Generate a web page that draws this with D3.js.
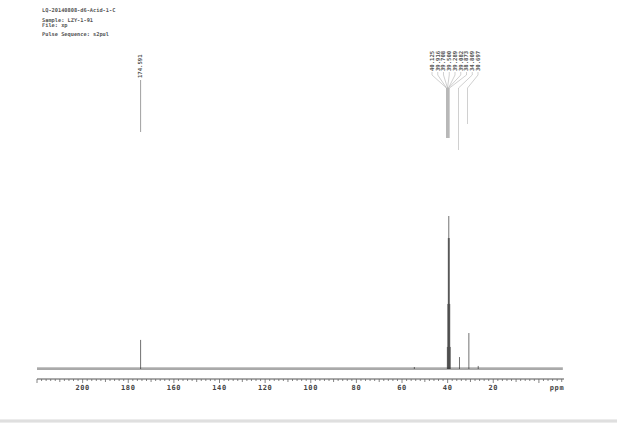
<!DOCTYPE html>
<html><head><meta charset="utf-8">
<script src="https://cdn.jsdelivr.net/npm/d3@7"></script>
<style>
html,body{margin:0;padding:0;background:#fff;}
svg{display:block;}
text{font-family:"DejaVu Sans Mono",monospace;fill:#333;}
</style></head>
<body>
<svg id="c" width="617" height="425"></svg>
<script>
// ---- data ----
const headerLines = ["LQ-20140808-d6-Acid-1-C", "Sample: LZY-1-91", "File: xp", "Pulse Sequence: s2pul"];
// peak chemical shifts (ppm) and relative intensities (% of tallest)
const peakPpm =       [174.591, 40.125, 39.916, 39.708, 39.500, 39.289, 39.082, 38.873, 34.809, 30.697, 26.60, 54.60];
const peakIntensity = [19.0,    14.4,   42.5,   85.6,   100.0,  85.6,   42.5,   14.4,   7.8,    23.5,   2.0,   1.3];
// labelled peaks
const labelPpm =   [40.125, 39.916, 39.708, 39.500, 39.289, 39.082, 38.873, 34.809, 30.697];
const labelTexts = ["40.125","39.916","39.708","39.500","39.289","39.082","38.873","34.809","30.697"];
const singleLabelPpm = [174.591];
const singleLabelTexts = ["174.591"];
const tickValues = [200, 180, 160, 140, 120, 100, 80, 60, 40, 20];
const axisUnit = "ppm";

// ---- drawing ----
const svg = d3.select("#c");
const x = d3.scaleLinear().domain([220, -11]).range([37, 564]);
const y = d3.scaleLinear().domain([0, 100]).range([369, 216]);

// header
svg.append("g").selectAll("text").data(headerLines).join("text")
  .attr("x", 42).attr("y", (d, i) => [12, 22, 26.5, 36][i])
  .attr("font-size", 5.3).attr("font-weight", "bold").style("fill", "#555")
  .text(d => d);

// baseline (with scan blur)
svg.append("line").attr("x1", x(220)).attr("x2", x(-10.5)).attr("y1", y(0) - 1.5).attr("y2", y(0) - 1.5)
  .attr("stroke", "#c4c4c4").attr("stroke-width", 1.2);
svg.append("line").attr("x1", x(220)).attr("x2", x(-10.5)).attr("y1", y(0)).attr("y2", y(0))
  .attr("stroke", "#555").attr("stroke-width", 1);

// peaks
svg.append("g").selectAll("line").data(peakPpm.map((p, i) => [p, peakIntensity[i]])).join("line")
  .attr("x1", d => x(d[0])).attr("x2", d => x(d[0]))
  .attr("y1", y(0)).attr("y2", d => y(d[1]))
  .attr("stroke", "#333").attr("stroke-width", 0.7);

// axis
const axisY = 379;
const ax = svg.append("g");
ax.append("line").attr("x1", x(220)).attr("x2", x(-11)).attr("y1", axisY).attr("y2", axisY)
  .attr("stroke", "#555").attr("stroke-width", 1);
const minor = d3.range(220, -11, -2);
ax.selectAll("line.t").data(minor).join("line").attr("class", "t")
  .attr("x1", d => x(d)).attr("x2", d => x(d))
  .attr("y1", axisY).attr("y2", d => axisY + (d % 20 === 0 ? 4 : (d % 10 === 0 ? 3 : 2)))
  .attr("stroke", "#666").attr("stroke-width", 0.8);
ax.selectAll("text.l").data(tickValues).join("text").attr("class", "l")
  .attr("x", d => x(d)).attr("y", 390).attr("text-anchor", "middle")
  .attr("font-size", 7).attr("font-weight", "bold").attr("letter-spacing", 0.6).style("fill", "#444")
  .text(d => d);
ax.append("text").attr("x", 557).attr("y", 390).attr("text-anchor", "middle")
  .attr("font-size", 7).attr("font-weight", "bold").attr("letter-spacing", 0.6).style("fill", "#444").text(axisUnit);

// single label 174.591
singleLabelPpm.forEach((p, i) => {
  const px = x(p);
  svg.append("text").attr("transform", `translate(${px + 1.9},78) rotate(-90)`)
    .attr("font-size", 5.6).attr("font-weight", "bold").style("fill", "#555").text(singleLabelTexts[i]);
  svg.append("line").attr("x1", px).attr("x2", px).attr("y1", 80).attr("y2", 132)
    .attr("stroke", "#888").attr("stroke-width", 0.8);
});

// cluster labels with leader lines
const labelX = d3.scaleLinear().domain([0, labelTexts.length - 1]).range([432, 478]);
const dropEnd = {"34.809": 150, "30.697": 124};
const lg = svg.append("g");
labelTexts.forEach((t, i) => {
  const lx = labelX(i), px = Math.round(x(labelPpm[i]) - 1.5) + 0.5;
  lg.append("text").attr("transform", `translate(${lx + 1.9},71) rotate(-90)`)
    .attr("font-size", 5.6).attr("font-weight", "bold").style("fill", "#555").text(t);
  lg.append("path")
    .attr("d", `M${lx},72 L${lx},75 L${px},88 L${px},${dropEnd[t] || 138}`)
    .attr("fill", "none").attr("stroke", "#a0a0a0").attr("stroke-width", 0.5);
});

// faint scan band at bottom
svg.append("rect").attr("x", 0).attr("y", 419).attr("width", 617).attr("height", 4)
  .attr("fill", "#ececec");
svg.append("line").attr("x1", 0).attr("x2", 617).attr("y1", 421).attr("y2", 421)
  .attr("stroke", "#d2d2d2").attr("stroke-width", 1);
</script>
</body></html>
